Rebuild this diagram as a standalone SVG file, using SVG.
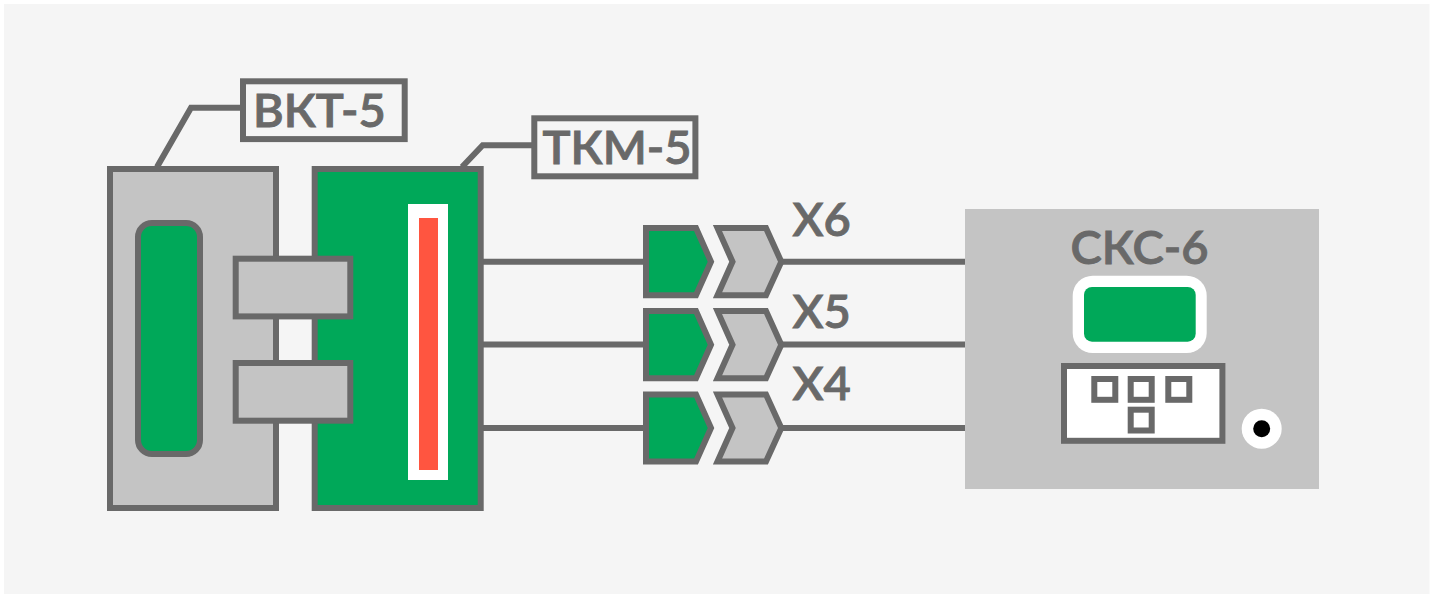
<svg xmlns="http://www.w3.org/2000/svg" width="1438" height="594" viewBox="0 0 1438 594">
<style>
.s{stroke:#696969;stroke-width:6;stroke-linejoin:miter}
.g{fill:#c4c4c4}
.n{fill:#00a859}
.w{fill:#fff}
.o{fill:#f5f5f5}
.c{fill:none;stroke:#696969;stroke-width:6}
.t{font-family:"Lato","Open Sans",sans-serif;font-weight:600;font-size:47px;letter-spacing:0;fill:#696969;stroke:#696969;stroke-width:.9px}
</style>
<defs>
<path id="plug" class="s n" d="M646 -33.6H696L711 0L696 33.6H646Z"/>
<path id="sock" class="s g" d="M717.5 -33.6H766L781.3 0L766 33.6H717.5L732.5 0Z"/>
</defs>
<rect width="1438" height="594" fill="#fff"/>
<rect x="4" y="4" width="1425.5" height="590" class="o"/>
<g id="connectors">
<path class="c" d="M157 167L191 107.7H241"/>
<path class="c" d="M462 167L482.7 145.3H533"/>
<path class="c" d="M483 261.7H644M782 261.7H966M483 344.6H644M782 344.6H966M483 428H644M782 428H966"/>
</g>
<g id="vkt5">
<rect class="s g" x="110" y="169" width="166" height="339"/>
<rect class="s n" x="138" y="223" width="62" height="231" rx="14"/>
</g>
<g id="tkm5">
<rect class="s n" x="314.7" y="169" width="166" height="339"/>
<rect class="w" x="408" y="204" width="40" height="276"/>
<rect x="419" y="218" width="19" height="252" fill="#ff5540"/>
</g>
<g id="clamp1"><rect class="s g" x="235.7" y="258.7" width="114.6" height="57.7"/></g>
<g id="clamp2"><rect class="s g" x="235.7" y="363" width="114.6" height="57.7"/></g>
<g id="label-vkt5">
<rect class="s o" x="243" y="81.3" width="161.7" height="57.8"/>
<text class="t" x="253" y="126.6">ВКТ-5</text>
</g>
<g id="label-tkm5">
<rect class="s o" x="534.3" y="118.3" width="161.1" height="58"/>
<text class="t" x="542.5" y="164.4">ТКМ-5</text>
</g>
<g id="x6"><use href="#plug" y="261.7"/><use href="#sock" y="261.7"/><text class="t" x="792.5" y="235.5">Х6</text></g>
<g id="x5"><use href="#plug" y="344.7"/><use href="#sock" y="344.7"/><text class="t" x="792.5" y="328">Х5</text></g>
<g id="x4"><use href="#plug" y="428"/><use href="#sock" y="428"/><text class="t" x="792.5" y="400">Х4</text></g>
<g id="sks6">
<rect class="g" x="965" y="209" width="354" height="280"/>
<text class="t" x="1070.5" y="264">СКС-6</text>
<rect class="w" x="1072.7" y="275.7" width="134" height="77.3" rx="20"/>
<rect class="n" x="1084" y="287" width="111.7" height="54.7" rx="8"/>
<rect class="s w" x="1064" y="366" width="158.4" height="74.8"/>
<rect class="s w" x="1094.3" y="379" width="21" height="20.8"/>
<rect class="s w" x="1130.7" y="379" width="21" height="20.8"/>
<rect class="s w" x="1168.3" y="379" width="21" height="20.8"/>
<rect class="s w" x="1130.7" y="409.7" width="21" height="20.8"/>
<circle class="w" cx="1261.7" cy="428.7" r="20"/>
<circle cx="1261.7" cy="428.7" r="8.5" fill="#000"/>
</g>
</svg>
